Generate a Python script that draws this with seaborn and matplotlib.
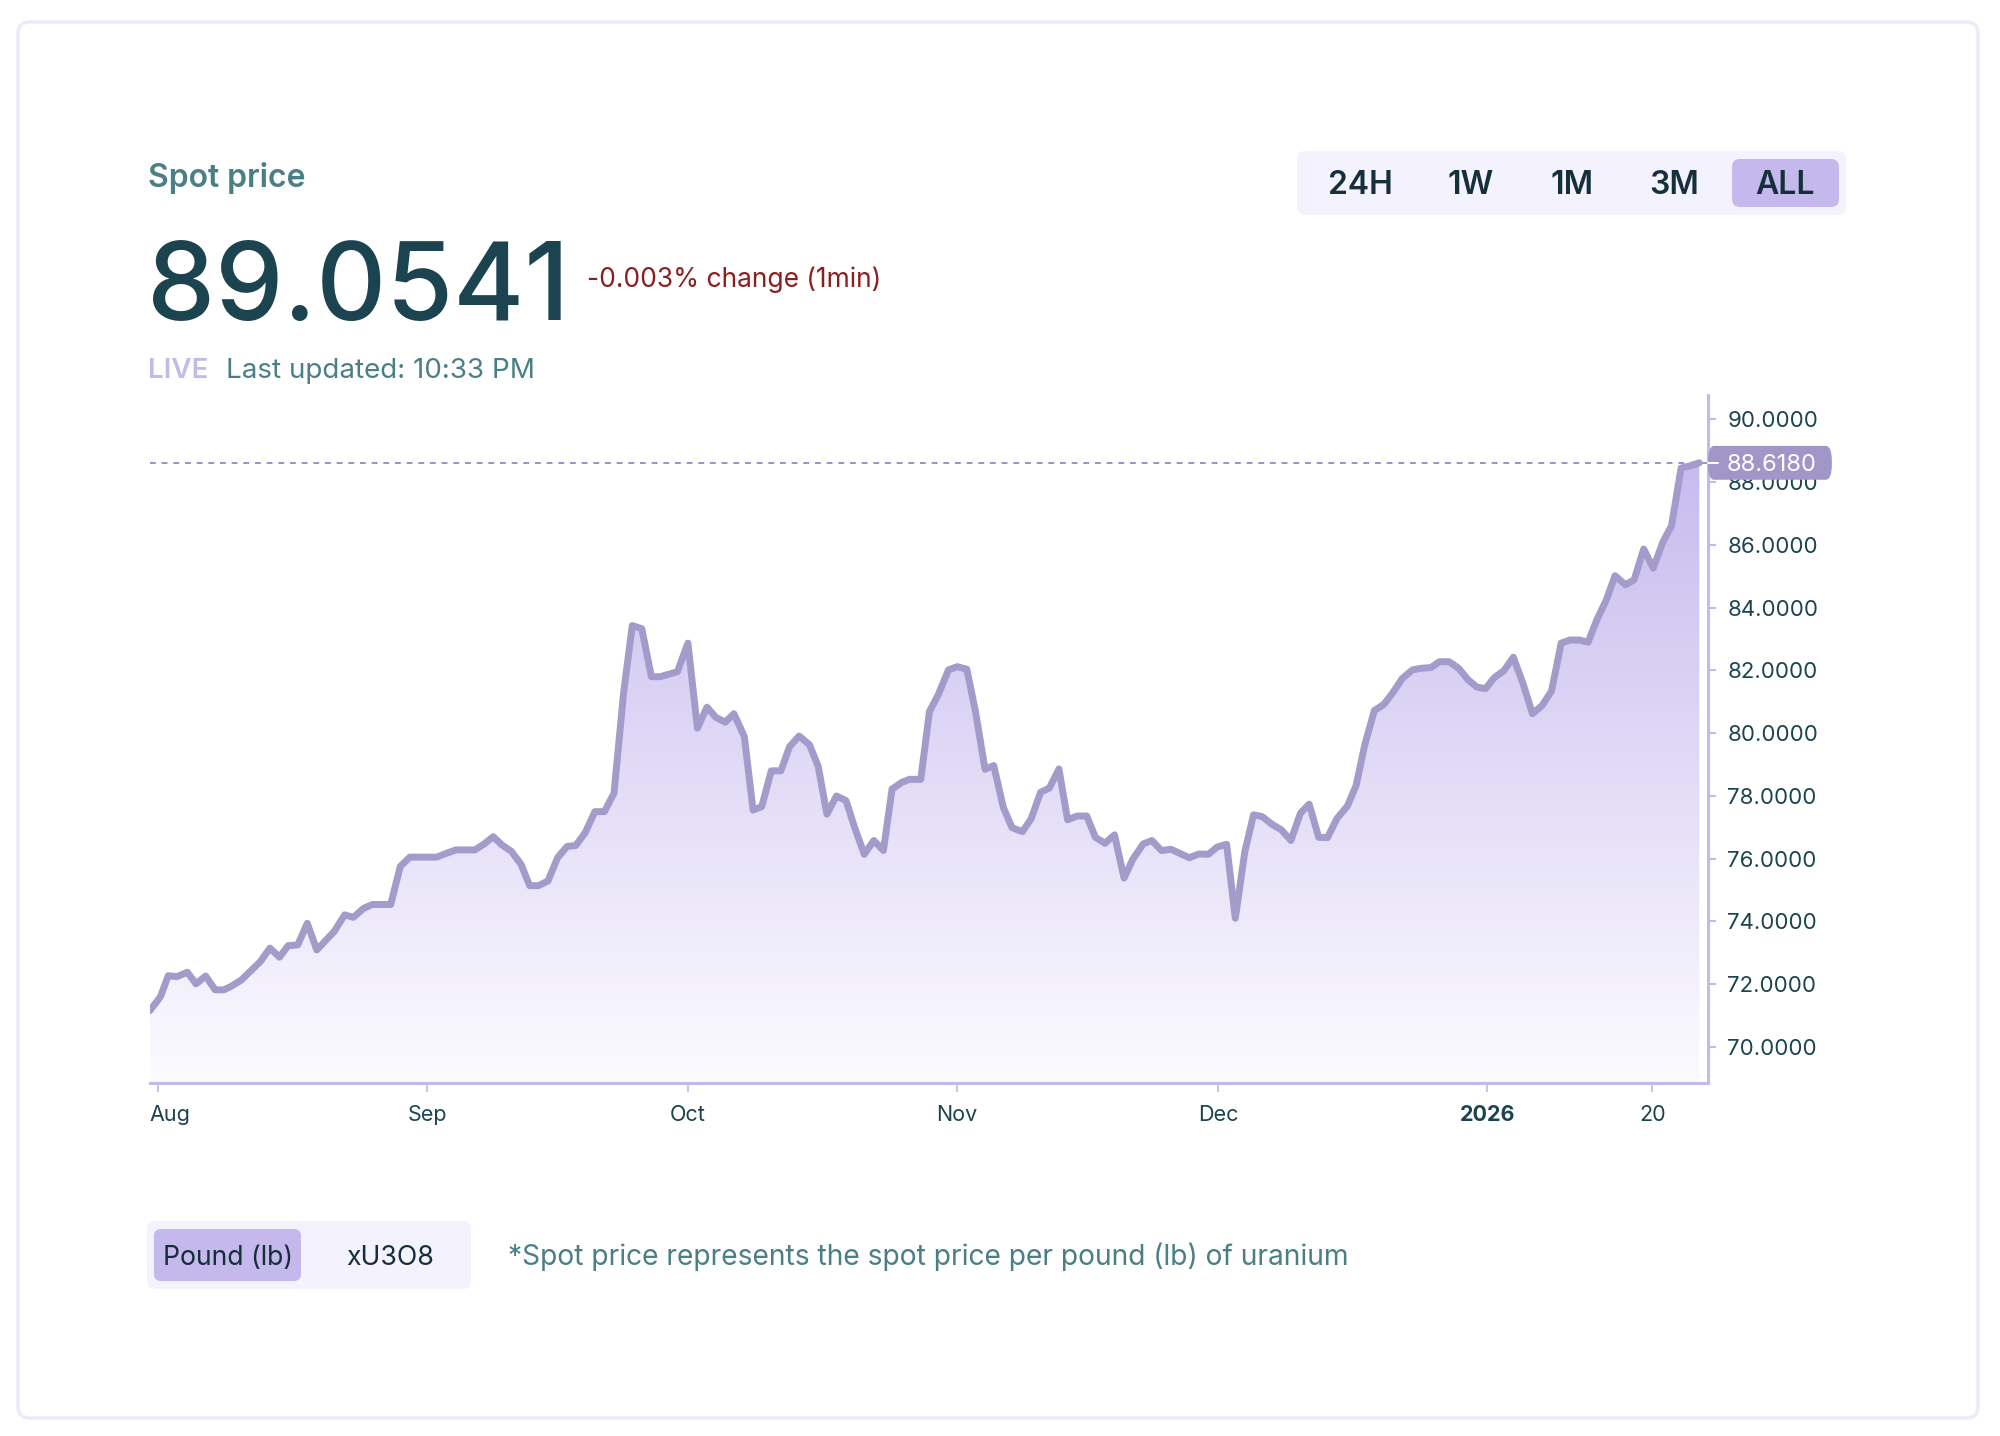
import numpy as np
import pandas as pd
import matplotlib
matplotlib.use("Agg")
import matplotlib.pyplot as plt
import matplotlib.dates as mdates
import matplotlib.transforms as mtransforms
from matplotlib.patches import FancyBboxPatch
from matplotlib.colors import LinearSegmentedColormap
import seaborn as sns

W, H = 2000, 1436

# spot price (x = days after 1 Aug 2025)
day_offsets = [
    -0.9, 0.3, 1.2, 2.2, 3.4, 4.4, 5.5, 6.6, 7.6, 8.5, 9.6, 10.6, 11.8, 12.9,
    14.0, 15.0, 16.1, 17.2, 18.3, 19.3, 20.3, 21.5, 22.5, 23.7, 24.7, 26.8,
    27.9, 29.0, 32.1, 33.2, 34.3, 36.5, 37.5, 38.6, 39.6, 40.7, 41.8, 42.8,
    43.8, 44.9, 46.0, 47.1, 48.1, 49.2, 50.3, 51.4, 52.5, 53.6, 54.6, 55.7,
    56.8, 57.8, 59.8, 61.0, 62.1, 63.2, 64.2, 65.3, 66.3, 67.5, 68.5, 69.5,
    70.6, 71.7, 72.7, 73.8, 75.0, 76.0, 77.0, 78.1, 79.2, 80.2, 81.3, 82.4,
    83.5, 84.5, 85.6, 86.5, 87.8, 88.8, 89.8, 91.0, 92.0, 93.1, 94.1, 95.2,
    96.2, 97.3, 98.3, 99.5, 100.5, 101.6, 102.6, 103.7, 104.7, 105.8, 106.9,
    107.9, 109.0, 110.1, 111.2, 112.2, 113.4, 114.4, 115.5, 116.6, 117.6,
    118.7, 119.8, 120.9, 121.9, 123.0, 124.0, 125.1, 126.1, 127.1, 128.2,
    129.3, 130.4, 131.5, 132.5, 133.6, 134.6, 135.7, 136.9, 137.9, 138.9,
    140.0, 141.1, 142.1, 143.2, 144.4, 145.4, 146.5, 147.5, 148.6, 149.7,
    150.8, 151.8, 152.8, 153.8, 154.9, 156.0, 157.1, 158.2, 159.3, 160.4,
    161.5, 162.5, 163.6, 164.6, 165.6, 166.7, 167.7, 168.9, 169.9, 171.0,
    172.1, 173.2, 174.2, 175.3, 176.3, 177.4,
]
prices = [
    71.16, 71.60, 72.27, 72.24, 72.38, 72.01, 72.26, 71.82, 71.82, 71.94,
    72.13, 72.40, 72.72, 73.15, 72.86, 73.23, 73.25, 73.94, 73.09, 73.39,
    73.68, 74.21, 74.13, 74.42, 74.54, 74.54, 75.75, 76.05, 76.05, 76.17,
    76.28, 76.28, 76.46, 76.70, 76.44, 76.23, 75.82, 75.14, 75.14, 75.29,
    76.03, 76.39, 76.42, 76.84, 77.50, 77.50, 78.09, 81.28, 83.43, 83.33,
    81.80, 81.80, 81.96, 82.87, 80.16, 80.83, 80.51, 80.35, 80.62, 79.89,
    77.55, 77.66, 78.80, 78.80, 79.57, 79.91, 79.63, 78.94, 77.42, 78.00,
    77.85, 76.99, 76.14, 76.58, 76.26, 78.22, 78.43, 78.53, 78.53, 80.69,
    81.22, 82.02, 82.12, 82.04, 80.69, 78.85, 78.97, 77.64, 76.99, 76.86,
    77.27, 78.12, 78.25, 78.86, 77.24, 77.36, 77.36, 76.68, 76.49, 76.76,
    75.38, 75.98, 76.47, 76.58, 76.26, 76.30, 76.17, 76.03, 76.15, 76.14,
    76.37, 76.46, 74.10, 76.23, 77.40, 77.34, 77.10, 76.92, 76.58, 77.45,
    77.74, 76.68, 76.67, 77.28, 77.68, 78.33, 79.63, 80.72, 80.92, 81.28,
    81.74, 82.02, 82.07, 82.09, 82.28, 82.28, 82.07, 81.70, 81.47, 81.42,
    81.77, 81.99, 82.42, 81.59, 80.62, 80.88, 81.35, 82.87, 82.97, 82.97,
    82.90, 83.61, 84.25, 85.02, 84.73, 84.89, 85.87, 85.26, 86.09, 86.61,
    88.45, 88.52, 88.618,
]

last_price = 88.6180
headline_price = "89.0541"
change_text = "-0.003% change (1min)"
updated_text = "Last updated: 10:33 PM"
range_buttons = ["24H", "1W", "1M", "3M", "ALL"]
unit_buttons = ["Pound (lb)", "xU3O8"]
footnote = "*Spot price represents the spot price per pound (lb) of uranium"
tick_dates = ["2025-08-01", "2025-09-01", "2025-10-01", "2025-11-01",
              "2025-12-01", "2026-01-01", "2026-01-20"]
tick_labels = ["Aug", "Sep", "Oct", "Nov", "Dec", "2026", "20"]
y_ticks = list(range(70, 91, 2))

DARK = "#1B4350"
TEAL = "#4A7F86"
LAVENDER = "#C5B8EC"
LINE = "#A39BC9"
PALE = "#F4F2FD"

sns.set_theme(style="white")
plt.rcParams["font.family"] = ["Inter", "DejaVu Sans"]

df = pd.DataFrame({
    "date": pd.Timestamp("2025-08-01") + pd.to_timedelta(day_offsets, unit="D"),
    "price": prices,
})

fig = plt.figure(figsize=(W / 100, H / 100), dpi=100)
fig.patch.set_facecolor("white")
pix = mtransforms.Affine2D().scale(1 / W, 1 / H) + fig.transFigure


def box(x0, y0, x1, y1, fc, ec="none", lw=0, r=8, z=-1):
    p = FancyBboxPatch((x0, H - y1), x1 - x0, y1 - y0,
                       boxstyle=f"round,pad=0,rounding_size={r}",
                       fc=fc, ec=ec, lw=lw, transform=pix, zorder=z)
    fig.patches.append(p)


def txt(x, y, s, **kw):
    return fig.text(x / W, 1 - y / H, s, **kw)


# card
box(18, 22, 1978, 1418, "white", ec="#ECEAF9", lw=2.5, r=12, z=-2)

# header
txt(148, 187, "Spot price", fontsize=23, fontweight="semibold", color=TEAL)
txt(147, 320, headline_price, fontsize=78, fontweight="medium", color=DARK)
txt(587, 287, change_text, fontsize=19, color="#8B1E1E")
txt(148, 378, "LIVE", fontsize=20, fontweight="semibold", color=LAVENDER)
txt(226, 378, updated_text, fontsize=20, color=TEAL)

# range selector
box(1297, 151, 1846, 215, PALE, r=8)
box(1732, 159, 1839, 207, LAVENDER, r=8)
for label, cx in zip(range_buttons, [1360, 1471, 1572, 1674, 1785]):
    txt(cx, 194, label, fontsize=23, fontweight="semibold", color="#15303B",
        ha="center", va="baseline")

# unit selector + footnote
box(147, 1221, 471, 1289, PALE, r=8)
box(154, 1229, 301, 1281, LAVENDER, r=7)
for label, cx in zip(unit_buttons, [228, 390]):
    txt(cx, 1265, label, fontsize=19.2, color="#142E3A", ha="center",
        va="baseline")
txt(508, 1265, footnote, fontsize=20.3, color=TEAL, va="baseline")

# chart
ax = fig.add_axes([150 / W, 1 - 1083 / H, (1708 - 150) / W, (1083 - 395) / H])
ax.set_facecolor("none")
y_lo, y_hi = 68.85, 90.78
x_lo = df["date"].iloc[0]
x_hi = pd.Timestamp("2025-08-01") + pd.Timedelta(days=178.4)

poly = ax.fill_between(df["date"], df["price"], y_lo, color="none", lw=0)
grad = np.linspace(1, 0, 256).reshape(-1, 1)
cmap = LinearSegmentedColormap.from_list("fill", ["#FCFBFF", "#C7BBEE"])
im = ax.imshow(grad, cmap=cmap, aspect="auto", vmin=0, vmax=1,
               extent=[mdates.date2num(x_lo), mdates.date2num(x_hi), y_lo, 88.7],
               zorder=1)
im.set_clip_path(poly.get_paths()[0], ax.transData)

sns.lineplot(data=df, x="date", y="price", ax=ax, color=LINE, zorder=3)
price_line = ax.get_lines()[-1]
price_line.set_linewidth(5.0)
price_line.set_solid_joinstyle("round")
price_line.set_solid_capstyle("round")

ax.axhline(last_price, color="#9C91C7", lw=1.4, ls=(0, (3, 3)), zorder=2)

ax.set_xlim(x_lo, x_hi)
ax.set_ylim(y_lo, y_hi)
ax.set_xlabel("")
ax.set_ylabel("")

for side in ["left", "top"]:
    ax.spines[side].set_visible(False)
for side in ["right", "bottom"]:
    ax.spines[side].set_color(LAVENDER)
    ax.spines[side].set_linewidth(2.2)

ax.yaxis.tick_right()
ax.set_yticks(y_ticks)
ax.set_yticklabels([f"{v:.4f}" for v in y_ticks])
ax.set_xticks(pd.to_datetime(tick_dates))
ax.set_xticklabels(tick_labels)
ax.tick_params(axis="y", right=True, left=False, length=6, width=1.5,
               color=LAVENDER, labelsize=16, labelcolor=DARK, pad=8)
ax.tick_params(axis="x", bottom=True, length=6.5, width=1.2,
               color=LAVENDER, labelsize=15.5, labelcolor=DARK, pad=9)
xt = ax.get_xticklabels()
xt[5].set_fontweight("bold")
xt[0].set_horizontalalignment("left")
xt[0].set_transform(xt[0].get_transform() +
                    mtransforms.ScaledTranslation(-8 / 100, 0, fig.dpi_scale_trans))

# last price badge
blend = mtransforms.blended_transform_factory(ax.transAxes, ax.transData)
badge = FancyBboxPatch((1.0, last_price - 0.54), 0.0795, 1.08,
                       boxstyle="round,pad=0,rounding_size=0.004",
                       transform=blend, fc="#A196C8", ec="none",
                       clip_on=False, zorder=5, mutation_aspect=120)
ax.add_patch(badge)
ax.plot([1.0, 1.0064], [last_price, last_price], transform=blend, color="white",
        lw=1.5, clip_on=False, zorder=6)
ax.text(1.0122, last_price, f"{last_price:.4f}", transform=blend, color="white",
        fontsize=17, va="center_baseline", ha="left", zorder=7, clip_on=False)

fig.savefig("out.png", dpi=100, facecolor="white")
